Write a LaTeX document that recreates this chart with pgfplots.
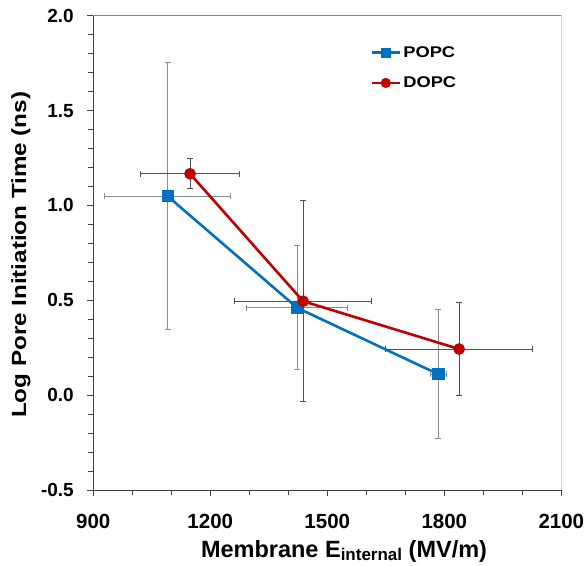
\documentclass[border=0pt]{standalone}
\usepackage{pgfplots}
\pgfplotsset{compat=1.18}
\usepackage{fontspec}
\setmainfont{Liberation Sans}
\newfontfamily\widefont{Liberation Sans}[FakeStretch=1.18]
\definecolor{popc}{HTML}{0070C0}
\definecolor{dopc}{HTML}{C00000}
\definecolor{barlight}{HTML}{8C8C8C}
\definecolor{bardark}{HTML}{505050}
\definecolor{framegray}{HTML}{868686}

% x, y, x error, y error
\pgfplotstableread{
x    y     ex   ey
1091 1.048 161  0.704
1423 0.460 129  0.327
1785 0.110 20   0.339
}\popcdata
\pgfplotstableread{
x    y     ex   ey
1148 1.167 128  0.080
1438 0.495 176  0.529
1838 0.243 188  0.243
}\dopcdata

\begin{document}
\begin{tikzpicture}
\begin{axis}[name=ax, scale only axis, width=468pt, height=474.3pt,
  xmin=900, xmax=2100, ymin=-0.5, ymax=2,
  xtick={900,1200,...,2100}, minor x tick num=2,
  ytick={-0.5,0,0.5,1,1.5,2}, minor y tick num=4,
  axis lines*=left,
  axis line style={black!75, line width=1pt},
  tick style={black!75, line width=0.8pt},
  tick align=outside, major tick length=6pt, minor tick length=5pt,
  /pgf/number format/assume math mode=true,
  xticklabel style={/pgf/number format/1000 sep={}, yshift=-15pt,
    font=\fontsize{20.5}{24}\selectfont\bfseries},
  yticklabel style={/pgf/number format/fixed, /pgf/number format/fixed zerofill,
    /pgf/number format/precision=1,
    xshift=-10pt, font=\fontsize{19}{22}\selectfont\bfseries},
  xlabel={Membrane E{\fontsize{17}{20}\selectfont\raisebox{-0.2em}{internal}} (MV/m)},
  xlabel style={at={(axis description cs:0.5357,-0.1425)}, anchor=base,
    font=\fontsize{23.5}{27}\selectfont\bfseries},
  ylabel={Log Pore Initiation Time (ns)},
  ylabel style={at={(axis description cs:-0.1438,0.4958)}, anchor=base,
    font=\fontsize{20.5}{24}\widefont\bfseries},
  legend style={at={(0.585,0.944)}, anchor=north west, draw=none, fill=none,
    font=\fontsize{15.5}{18}\widefont\bfseries, row sep=14pt},
  legend cell align=left,
  legend image code/.code={\draw[mark repeat=2,mark phase=2,mark size=3.7pt]
    plot coordinates {(0cm,0cm) (0.5cm,0cm) (1cm,0cm)};},
]
\addplot[popc, line width=2.6pt, mark=square*, mark size=4.8pt,
  error bars/.cd, x dir=both, x explicit, y dir=both, y explicit,
  error bar style={barlight, line width=1pt},
  error mark options={barlight, line width=1pt, mark size=3pt, rotate=90}]
  table[x=x, y=y, x error=ex, y error=ey] {\popcdata};
\addlegendentry{POPC}
\addplot[dopc, line width=2.6pt, mark=*, mark size=4.5pt,
  error bars/.cd, x dir=both, x explicit, y dir=both, y explicit,
  error bar style={bardark, line width=1pt},
  error mark options={bardark, line width=1pt, mark size=3pt, rotate=90}]
  table[x=x, y=y, x error=ex, y error=ey] {\dopcdata};
\addlegendentry{DOPC}
\draw[framegray, line width=1pt] (rel axis cs:0,1) -- (rel axis cs:1,1) -- (rel axis cs:1,0);
\end{axis}
\pgfresetboundingbox
\useasboundingbox ([xshift=-93.3pt,yshift=-75pt]ax.south west) rectangle ([xshift=24.7pt,yshift=15.7pt]ax.north east);
\end{tikzpicture}
\end{document}
